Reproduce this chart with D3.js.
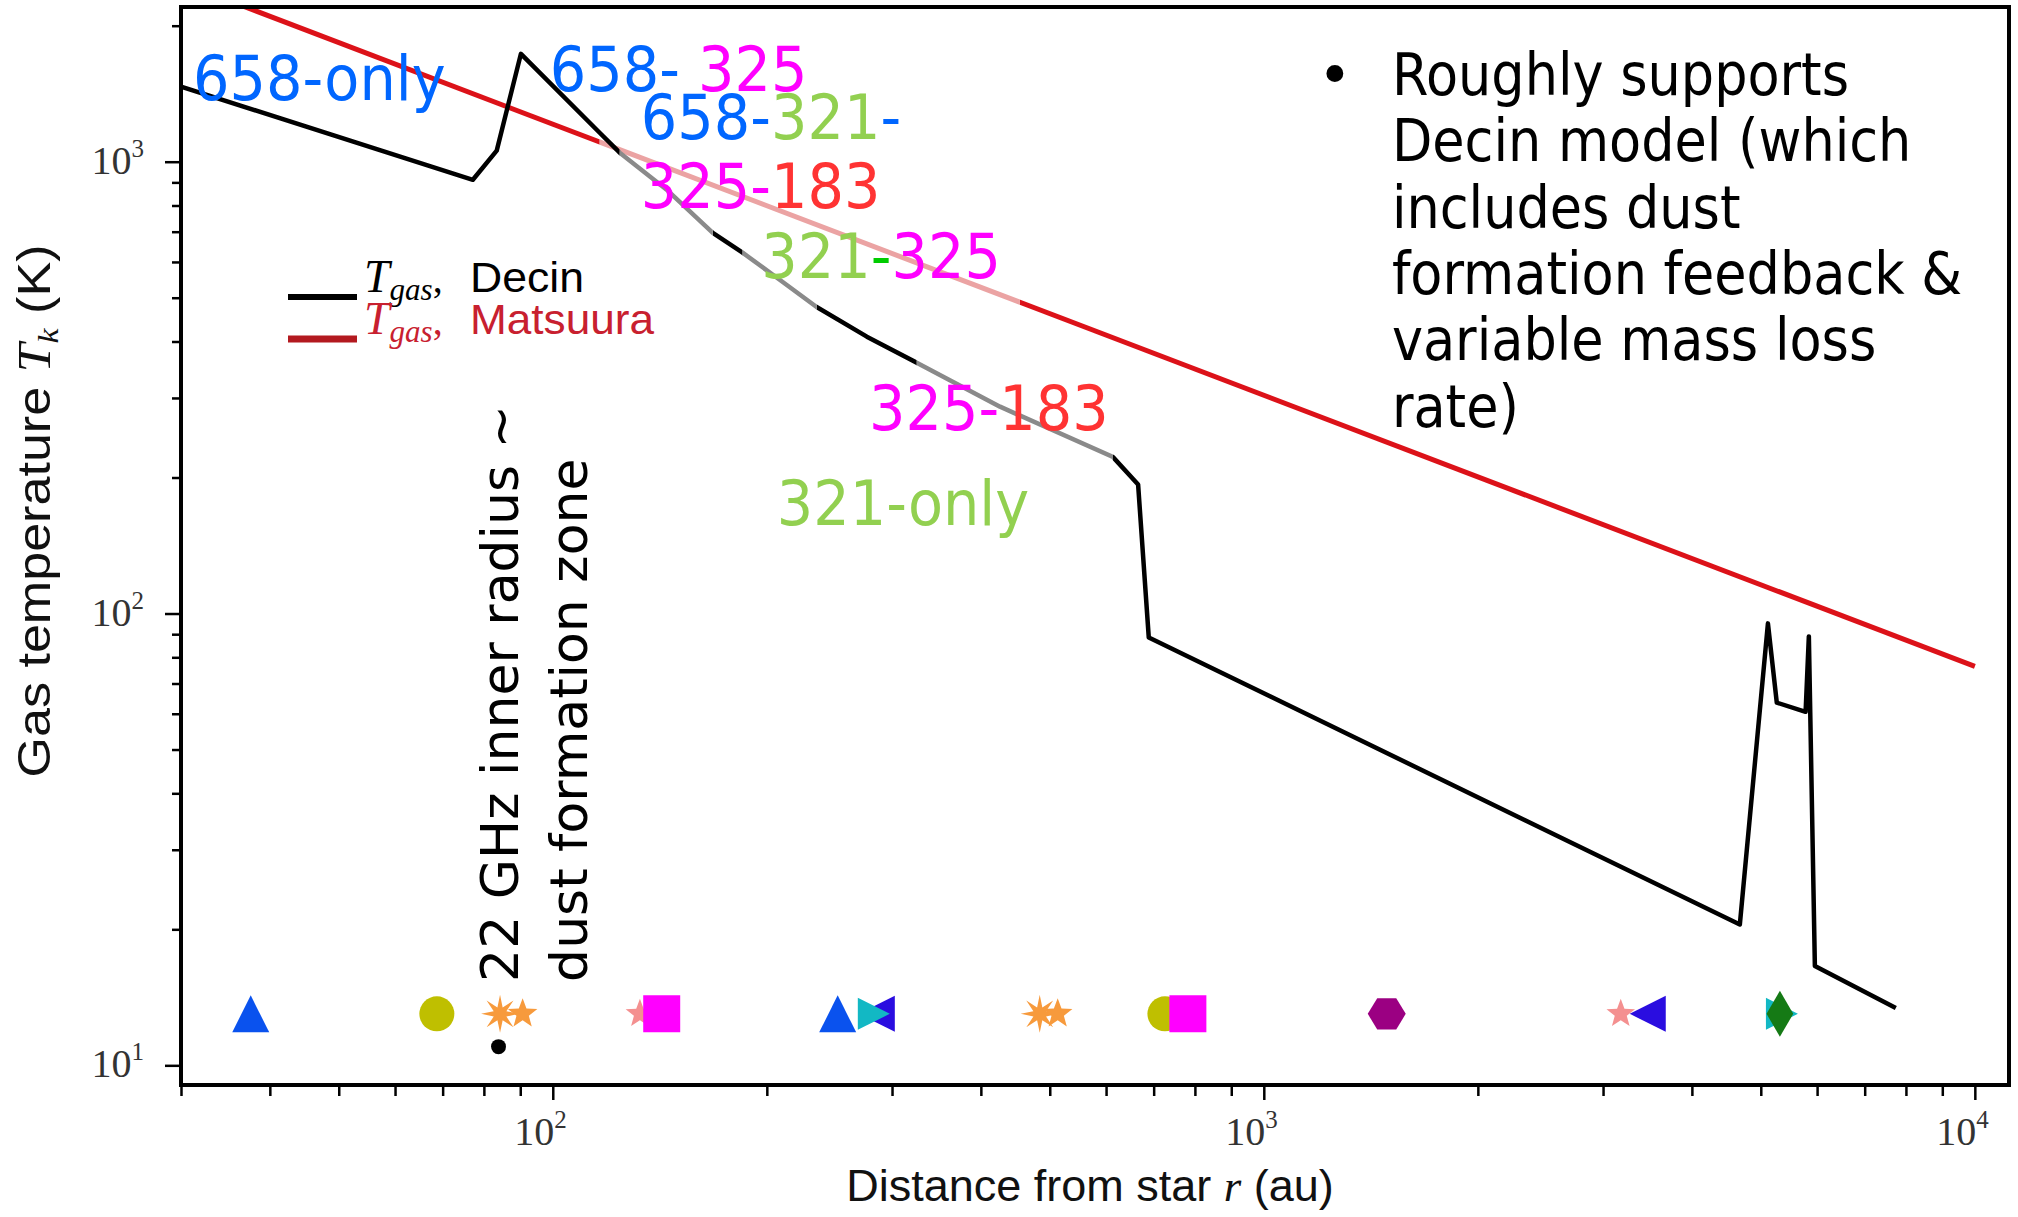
<!DOCTYPE html>
<html><head><meta charset="utf-8">
<script src="https://cdn.jsdelivr.net/npm/d3@7"></script>
<style>html,body{margin:0;padding:0;background:#fff;} svg{display:block;}</style>
</head><body>
<svg id="chart" width="2018" height="1217"></svg>
<script>
// ---------------- DATA ----------------
// Decin model gas temperature profile (r in au, T in K)
const decinR = [30.0, 77.2, 83.4, 90.2, 116.4, 124.2, 144.6, 167.9, 184.9, 208.5, 235, 276.5, 325, 425.6, 613.6, 665.6, 689, 4672, 5117, 5266, 5781, 5842, 5957, 7742];
const decinT = [1466, 912, 1058, 1733, 1159, 1047, 867, 696, 629, 548, 477, 410, 359, 287, 222, 193, 88.5, 20.5, 95.1, 63.5, 60.6, 89.0, 16.6, 13.4];
// Matsuura power law
const matsuuraR = [30, 10000];
const matsuuraT = [2494, 76.4];
// r-intervals where lines appear washed out behind text boxes
const decinFaded = [[124.2, 167.9], [184.9, 235], [325, 613.6]];
const matsuuraFaded = [[116.4, 454]];
// marker row (maser emission positions)
const markerR = [37.6, 68.7, 84.3, 90.7, 132.6, 142.3, 251.6, 285.6, 282.8, 484, 513, 726, 782, 1489, 3467, 3177, 5354, 5319];
const markerT = [13, 13, 13, 13, 13, 13, 13, 13, 13, 13, 13, 13, 13, 13, 13, 13, 13, 13];
const markerKind = ["triUp", "circle", "asterisk", "star", "pinkStar", "square", "triUp", "triLeft", "triRight", "asterisk", "star", "circle", "square", "hexagon", "triLeft", "pinkStar", "triRight", "diamond"];
// legend
const legendNames = ["Decin", "Matsuura"];
// tick labels
const xMajor = [100, 1000, 10000];
const xMinor = [30, 40, 50, 60, 70, 80, 90, 200, 300, 400, 500, 600, 700, 800, 900, 2000, 3000, 4000, 5000, 6000, 7000, 8000, 9000];
const yMajor = [10, 100, 1000];
const yMinor = [20, 30, 40, 50, 60, 70, 80, 90, 200, 300, 400, 500, 600, 700, 800, 900, 2000];
const tickExp = {10: "1", 100: "2", 1000: "3", 10000: "4"};
// annotation labels (segments of [text, band])
const labelSegments = [
  [["658-only", "658"]],
  [["658- ", "658"], ["325", "325"]],
  [["658-", "658"], ["321", "321"], ["-", "658"]],
  [["325-", "325"], ["183", "183"]],
  [["321", "321"], ["-", "hy"], ["325", "325"]],
  [["325-", "325"], ["183", "183"]],
  [["321-only", "321"]]
];
const labelR = [31.2, 99.0, 133.0, 133.0, 196.5, 278.5, 206.5];
const labelT = [1371, 1435, 1125, 791, 554, 255, 157];
const noteLines = ["Roughly supports", "Decin model (which", "includes dust", "formation feedback &", "variable mass loss", "rate)"];
const sideNoteLines = ["22 GHz inner radius ~", "dust formation zone"];

// ---------------- STYLE ----------------
const bandColor = {"658": "#0066ff", "321": "#92d050", "325": "#ff00ff", "183": "#ff3333", "hy": "#00cc00"};
const markerStyle = {
  triUp: {fill: "#0a52ee", size: 37},
  circle: {fill: "#bfbf00", size: 35},
  asterisk: {fill: "#f79a3c", size: 38},
  star: {fill: "#f79a3c", size: 31},
  pinkStar: {fill: "#f49090", size: 30},
  square: {fill: "#ff00ff", size: 37},
  triLeft: {fill: "#2a0de0", size: 36},
  triRight: {fill: "#12b8c4", size: 32},
  hexagon: {fill: "#9b0082", size: 38},
  diamond: {fill: "#157a15", size: 46}
};

// ---------------- SCALES ----------------
const P = {left: 181, right: 2009, top: 7, bottom: 1086};
const x = d3.scaleLog().domain([30, 11170]).range([P.left, P.right]);
const y = d3.scaleLog().domain([9, 2200]).range([P.bottom, P.top]);

const svg = d3.select("#chart");
const defs = svg.append("defs");
defs.append("clipPath").attr("id", "plotClip").append("rect")
  .attr("x", P.left).attr("y", P.top).attr("width", P.right - P.left).attr("height", P.bottom - P.top);

function addClip(id, intervals, invert) {
  const cp = defs.append("clipPath").attr("id", id);
  let iv = intervals;
  if (invert) {
    iv = [];
    let start = x.domain()[0];
    intervals.forEach(([a, b]) => { iv.push([start, a]); start = b; });
    iv.push([start, x.domain()[1]]);
  }
  iv.forEach(([a, b]) => {
    cp.append("rect").attr("x", x(a)).attr("y", P.top).attr("width", x(b) - x(a)).attr("height", P.bottom - P.top);
  });
}
addClip("decinFade", decinFaded, false);
addClip("decinSolid", decinFaded, true);
addClip("matFade", matsuuraFaded, false);
addClip("matSolid", matsuuraFaded, true);

const line = d3.line().x(d => x(d[0])).y(d => y(d[1]));
const decin = decinR.map((r, i) => [r, decinT[i]]);
const mats = matsuuraR.map((r, i) => [r, matsuuraT[i]]);

const plotG = svg.append("g").attr("clip-path", "url(#plotClip)");
function drawLine(data, color, fadedColor, solidClip, fadeClip, w) {
  plotG.append("g").attr("clip-path", `url(#${solidClip})`).append("path")
    .attr("d", line(data)).attr("fill", "none").attr("stroke", color)
    .attr("stroke-width", w).attr("stroke-linejoin", "round");
  plotG.append("g").attr("clip-path", `url(#${fadeClip})`).append("path")
    .attr("d", line(data)).attr("fill", "none").attr("stroke", fadedColor)
    .attr("stroke-width", w).attr("stroke-linejoin", "round");
}
drawLine(mats, "#dc1219", "#eba3a3", "matSolid", "matFade", 5);
drawLine(decin, "#000000", "#8a8a8a", "decinSolid", "decinFade", 4.5);

// ---------------- MARKERS ----------------
function starType(n, inner) {
  return {draw(ctx, s) {
    const R = s / 2, r = R * inner;
    for (let i = 0; i < 2 * n; i++) {
      const a = -Math.PI / 2 + i * Math.PI / n;
      const rr = i % 2 ? r : R;
      if (i === 0) ctx.moveTo(rr * Math.cos(a), rr * Math.sin(a));
      else ctx.lineTo(rr * Math.cos(a), rr * Math.sin(a));
    }
    ctx.closePath();
  }};
}
const types = {
  triUp: {draw(c, s) { const h = s / 2; c.moveTo(0, -h); c.lineTo(h, h); c.lineTo(-h, h); c.closePath(); }},
  triLeft: {draw(c, s) { const h = s / 2; c.moveTo(-h, 0); c.lineTo(h, -h); c.lineTo(h, h); c.closePath(); }},
  triRight: {draw(c, s) { const h = s / 2; c.moveTo(h, 0); c.lineTo(-h, -h); c.lineTo(-h, h); c.closePath(); }},
  circle: {draw(c, s) { c.moveTo(s / 2, 0); c.arc(0, 0, s / 2, 0, 2 * Math.PI); }},
  square: {draw(c, s) { const h = s / 2; c.rect(-h, -h, s, s); }},
  hexagon: {draw(c, s) { const R = s / 2; for (let i = 0; i < 6; i++) { const a = i * Math.PI / 3; i ? c.lineTo(R * Math.cos(a), R * Math.sin(a) * 0.95) : c.moveTo(R * Math.cos(a), R * Math.sin(a) * 0.95); } c.closePath(); }},
  diamond: {draw(c, s) { const h = s / 2, w = s * 0.29; c.moveTo(0, -h); c.lineTo(w, 0); c.lineTo(0, h); c.lineTo(-w, 0); c.closePath(); }},
  asterisk: starType(8, 0.36),
  star: starType(5, 0.42),
  pinkStar: starType(5, 0.42)
};
svg.append("g").selectAll("path").data(markerR.map((r, i) => ({r, T: markerT[i], k: markerKind[i]})))
  .join("path")
  .attr("transform", d => `translate(${x(d.r)},${y(d.T)})`)
  .attr("d", d => d3.symbol().type(types[d.k]).size(markerStyle[d.k].size)())
  .attr("fill", d => markerStyle[d.k].fill);

// ---------------- AXES ----------------
const axG = svg.append("g");
function styleAxis(g) { g.select(".domain").remove(); g.selectAll("line").attr("stroke", "#000").attr("stroke-width", 2.5); g.selectAll("text").remove(); }
axG.append("g").attr("transform", `translate(0,1085)`).call(d3.axisBottom(x).tickValues(xMajor).tickSize(15)).call(styleAxis);
axG.append("g").attr("transform", `translate(0,1085)`).call(d3.axisBottom(x).tickValues(xMinor).tickSize(11)).call(styleAxis);
axG.append("g").attr("transform", `translate(181,0)`).call(d3.axisLeft(y).tickValues(yMajor).tickSize(16)).call(styleAxis);
axG.append("g").attr("transform", `translate(181,0)`).call(d3.axisLeft(y).tickValues(yMinor.filter(v => v < y.domain()[1])).tickSize(9)).call(styleAxis);

svg.append("rect").attr("x", 181).attr("y", 7).attr("width", 1828).attr("height", 1078)
  .attr("fill", "none").attr("stroke", "#000").attr("stroke-width", 4);

function powLabel(g, v, xx, yy, anchor) {
  const t = g.append("text").attr("x", xx).attr("y", yy).attr("text-anchor", anchor)
    .attr("font-family", "Liberation Serif, serif").attr("font-size", 40).attr("fill", "#333");
  t.append("tspan").text("10");
  t.append("tspan").attr("font-size", 25).attr("dy", -17).text(tickExp[v]);
}
const tl = svg.append("g");
yMajor.forEach(v => powLabel(tl, v, 144, y(v) + 12, "end"));
xMajor.forEach(v => powLabel(tl, v, x(v) + 14, 1145, "end"));

// axis titles
const xt = svg.append("text").attr("x", 1090).attr("y", 1201).attr("text-anchor", "middle")
  .attr("font-family", "Liberation Sans, Arial, sans-serif").attr("font-size", 45).attr("fill", "#111");
xt.append("tspan").text("Distance from star ");
xt.append("tspan").attr("font-family", "Liberation Serif, serif").attr("font-style", "italic").text("r");
xt.append("tspan").text(" (au)");

const yt = svg.append("text").attr("transform", "translate(50,511) rotate(-90)").attr("text-anchor", "middle")
  .attr("font-family", "Liberation Sans, Arial, sans-serif").attr("font-size", 46).attr("fill", "#111")
  .attr("textLength", 533).attr("lengthAdjust", "spacingAndGlyphs");
yt.append("tspan").text("Gas temperature ");
yt.append("tspan").attr("font-family", "Liberation Serif, serif").attr("font-style", "italic").text("T");
yt.append("tspan").attr("font-family", "Liberation Serif, serif").attr("font-style", "italic").attr("font-size", 30).attr("dy", 8).text("k");
yt.append("tspan").attr("dy", -8).text(" (K)");

// ---------------- LEGEND ----------------
const legColors = [{line: "#000000", text: "#000000"}, {line: "#b3191f", text: "#c8202f"}];
const lg = svg.append("g");
legendNames.forEach((name, i) => {
  const yy = 297 + i * 42;
  lg.append("line").attr("x1", 288).attr("x2", 357).attr("y1", yy).attr("y2", yy)
    .attr("stroke", legColors[i].line).attr("stroke-width", i ? 7 : 6);
  const t = lg.append("text").attr("x", 364).attr("y", yy - 5).attr("fill", legColors[i].text)
    .attr("font-size", 40);
  t.append("tspan").attr("font-family", "Liberation Serif, serif").attr("font-style", "italic").attr("font-size", 46).text("T");
  t.append("tspan").attr("font-family", "Liberation Serif, serif").attr("font-style", "italic").attr("font-size", 31).attr("dy", 8).text("gas");
  t.append("tspan").attr("font-family", "Liberation Serif, serif").attr("dy", -8).text(",");
  t.append("tspan").attr("x", 470).attr("font-family", "Liberation Sans, Arial, sans-serif").attr("font-size", 42)
    .attr("textLength", i ? 184 : 114).attr("lengthAdjust", "spacingAndGlyphs").text(name);
});

// ---------------- ANNOTATIONS ----------------
const annG = svg.append("g").attr("font-family", "DejaVu Sans, sans-serif");
labelSegments.forEach((segs, i) => {
  const t = annG.append("text").attr("transform", `translate(${x(labelR[i])},${y(labelT[i])}) scale(0.925,1)`)
    .attr("font-size", 62).attr("xml:space", "preserve").style("white-space", "pre");
  segs.forEach(([txt, band]) => t.append("tspan").attr("fill", bandColor[band]).text(txt));
});

// right-hand note
const noteX = x(1514), noteY0 = y(1406);
annG.append("text").attr("x", x(1259)).attr("y", noteY0).attr("text-anchor", "middle").attr("font-size", 58).text("•");
noteLines.forEach((s, i) => {
  annG.append("text").attr("transform", `translate(${noteX},${noteY0 + i * 66.4}) scale(0.905,1)`)
    .attr("font-size", 58).attr("fill", "#000").text(s);
});

// rotated side note
const sideR = [89.3, 111.6];
sideNoteLines.forEach((s, i) => {
  const g = annG.append("g").attr("transform", `translate(${x(sideR[i])},${y(15.3)}) rotate(-90)`);
  g.append("text").attr("x", 0).attr("y", 0).attr("font-size", 52).attr("fill", "#000").text(s);
  if (i === 0) g.append("text").attr("x", -80).attr("y", 0).attr("font-size", 52).attr("fill", "#000").text("•");
});
</script>
</body></html>
